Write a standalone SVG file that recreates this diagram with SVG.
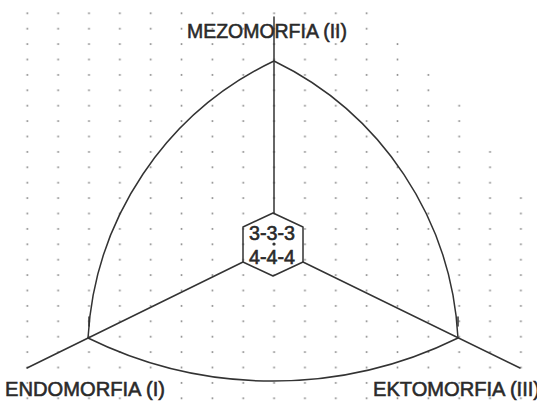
<svg xmlns="http://www.w3.org/2000/svg" width="537" height="402" viewBox="0 0 537 402">
  <style>
    .ln { fill: none; stroke: #333; stroke-width: 1.5; stroke-linejoin: round; stroke-linecap: round; }
    .lbl { font-family: "Liberation Sans", Arial, sans-serif; font-size: 19.5px; fill: #2a2a2a; stroke: #2a2a2a; stroke-width: 0.55; }
    .val { font-family: "Liberation Sans", Arial, sans-serif; font-size: 20px; fill: #2a2a2a; stroke: #2a2a2a; stroke-width: 0.6; text-anchor: middle; }
  </style>
  <defs>
    <pattern id="dots" patternUnits="userSpaceOnUse" x="11.875" y="5.6" width="30.85" height="15.4">
      <circle cx="15.425" cy="7.7" r="1" fill="#8a8a8a"/>
    </pattern>
  </defs>
  <rect width="537" height="402" fill="#ffffff"/>
  <path id="grid" fill="url(#dots)" d="M 18 4 L 382 4 L 382 37 L 413 37 L 413 67 L 444 67 L 444 98 L 475 98 L 475 144 L 506 144 L 506 190 L 537 190 L 537 402 L 18 402 Z"/>

  <g id="triangle">
    <path class="ln" d="M 88 338 A 327 327 0 0 1 274 61"/>
    <path class="ln" d="M 274 61 A 327 327 0 0 1 458 338"/>
    <path class="ln" d="M 88 338 A 419 419 0 0 0 458 338"/>
  </g>

  <g id="connectors">
    <line class="ln" x1="274" y1="17" x2="274" y2="213"/>
    <line class="ln" x1="243" y1="262" x2="27" y2="368"/>
    <line class="ln" x1="303" y1="262" x2="520" y2="368"/>
    <line class="ln" x1="89" y1="317" x2="89" y2="326"/>
    <line class="ln" x1="458" y1="317" x2="458" y2="326"/>
  </g>

  <g id="somatotype">
    <polygon class="ln" points="273,213 303,227 303,262 273,276 243,262 243,227"/>
    <text class="val" x="272" y="240" textLength="46" lengthAdjust="spacingAndGlyphs">3-3-3</text>
    <circle cx="274" cy="244" r="1.6" fill="#333"/>
    <text class="val" x="272" y="264" textLength="46" lengthAdjust="spacingAndGlyphs">4-4-4</text>
  </g>

  <g id="mezomorfia">
    <text class="lbl" x="187" y="38" textLength="160" lengthAdjust="spacingAndGlyphs">MEZOMORFIA (II)</text>
  </g>
  <g id="endomorfia">
    <text class="lbl" x="5" y="396" textLength="160" lengthAdjust="spacingAndGlyphs">ENDOMORFIA (I)</text>
  </g>
  <g id="ektomorfia">
    <text class="lbl" x="373" y="396" textLength="167" lengthAdjust="spacingAndGlyphs">EKTOMORFIA (III)</text>
  </g>
</svg>
